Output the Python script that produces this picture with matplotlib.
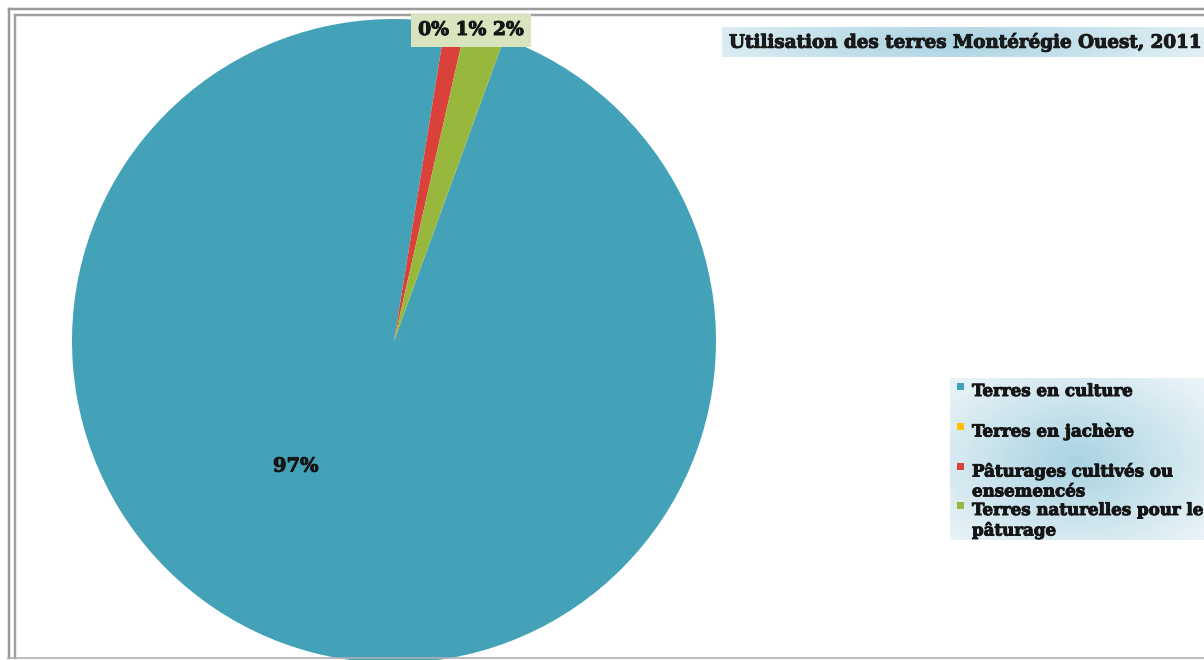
import numpy as np
import matplotlib.pyplot as plt
import matplotlib.patheffects as pe
from matplotlib.patches import Rectangle
from matplotlib.lines import Line2D
from matplotlib.colors import LinearSegmentedColormap

categories = ["Terres en culture", "Terres en jachère",
              "Pâturages cultivés ou\nensemencés",
              "Terres naturelles pour le\npâturage"]
shares = [97.0, 0.0, 1.0, 2.0]
pct_labels = ["97%", "0%", "1%", "2%"]
colors = ["#43a2b8", "#ffc000", "#d9413a", "#98b83d"]
title = "Utilisation des terres Montérégie Ouest, 2011"

W, H = 1204, 660
plt.rcParams['font.family'] = ['DejaVu Serif']
plt.rcParams['font.weight'] = 'bold'
fig = plt.figure(figsize=(W / 100, H / 100), dpi=100)
thick = [pe.withStroke(linewidth=0.7, foreground="#151515")]


def fx(px):
    return px / W


def fy(py):
    return 1 - py / H


# double grey frame (left / top / bottom)
for off, col, lw in [(8.5, "#9a9a9a", 2.5), (14.5, "#a0a0a0", 2.5)]:
    fig.add_artist(Line2D([fx(off), fx(off)], [fy(off), fy(H - 2)], color=col, lw=lw * 0.72))
    fig.add_artist(Line2D([fx(off), 1], [fy(off), fy(off)], color=col, lw=lw * 0.72))
fig.add_artist(Line2D([fx(8), 1], [fy(658), fy(658)], color="#b0b0b0", lw=1.2))

# pie
cx, cy, r = 394, 341, 322
ax = fig.add_axes([fx(cx - r), fy(cy + r), 2 * r / W, 2 * r / H])
wedges, _ = ax.pie(shares, colors=colors, startangle=70, counterclock=False,
                   radius=1, wedgeprops=dict(linewidth=0))
ax.set_xlim(-1, 1)
ax.set_ylim(-1, 1)
ax.axis("off")
ax.text(-0.305, -0.39, pct_labels[0], ha="center", va="center",
        fontsize=14, fontweight="bold", color="#151515", path_effects=thick)

fig.text(fx(471), fy(30), " ".join(pct_labels[1:]), ha="center", va="center",
         fontsize=13.5, fontweight="bold", color="#151515", path_effects=thick,
         bbox=dict(boxstyle="square,pad=0.4", fc="#d7e4bd", ec="none"))


def gradient_box(x0, y0, x1, y1, ccx, ccy, sx, sy):
    gax = fig.add_axes([fx(x0), fy(y1), (x1 - x0) / W, (y1 - y0) / H])
    xs = np.linspace(x0, x1, 200)
    ys = np.linspace(y0, y1, 100)
    X, Y = np.meshgrid(xs, ys)
    d = np.sqrt(((X - ccx) / sx) ** 2 + ((Y - ccy) / sy) ** 2)
    cmap = LinearSegmentedColormap.from_list("g", ["#a9d3e1", "#e9f3f7"])
    gax.imshow(np.clip(d, 0, 1), cmap=cmap, aspect="auto", vmin=0, vmax=1)
    gax.axis("off")
    return gax


# title
gradient_box(722, 27, 1204, 57, 950, 42, 300, 60)
fig.text(fx(729), fy(42), title, ha="left", va="center", fontsize=13.2,
         fontweight="bold", color="#1a1a1a", path_effects=thick, zorder=5)

# legend
gradient_box(950, 378, 1204, 540, 1075, 462, 170, 110)
ys = [391, 431, 471, 510]
for lab, col, yy in zip(categories, colors, ys):
    fig.add_artist(Rectangle((fx(957), fy(yy - 1)), 7 / W, 7 / H, fc=col, ec="none", zorder=5))
    fig.text(fx(972), fy(yy - 8), lab, ha="left", va="top", fontsize=12,
             fontweight="bold", color="#151515", linespacing=1.22,
             path_effects=thick, zorder=5)

fig.savefig("out.png", dpi=100)
